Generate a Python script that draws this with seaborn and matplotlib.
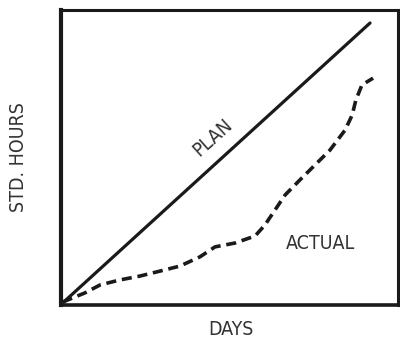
import matplotlib
matplotlib.use("Agg")
import matplotlib.pyplot as plt
import seaborn as sns
import pandas as pd

plan_days = [0.5, 91.7]
plan_hours = [0.7, 95.6]

actual_days = [0.5, 7.1, 11.6, 17.5, 23.4, 29.4, 35.3, 41.2, 45.7, 51.6, 57.6,
               60.5, 63.5, 66.5, 70.9, 75.4, 79.8, 84.3, 86.4, 87.5, 89.3, 92.6]
actual_hours = [1.0, 4.1, 6.8, 8.5, 9.8, 11.5, 13.2, 16.3, 19.7, 21.0, 23.4,
                27.1, 32.2, 37.3, 42.4, 47.5, 52.5, 59.3, 64.4, 69.5, 74.6, 76.9]

sns.set_theme(style="white")
plt.rcParams['font.family'] = ['DejaVu Sans']

fig = plt.figure(figsize=(4.0, 3.41), dpi=100)
ax = fig.add_axes([0.1525, 0.1056, 0.8425, 0.865])

plan_df = pd.DataFrame({"days": plan_days, "hours": plan_hours})
act_df = pd.DataFrame({"days": actual_days, "hours": actual_hours})

sns.lineplot(data=plan_df, x="days", y="hours", ax=ax, color="#1a1a1a", linewidth=2.3)
sns.lineplot(data=act_df, x="days", y="hours", ax=ax, color="#1a1a1a", linewidth=2.6,
             linestyle=(0, (2.8, 1.6)))

ax.set_xlim(0, 100)
ax.set_ylim(0, 100)
ax.set_xticks([])
ax.set_yticks([])
ax.set_xlabel("")
ax.set_ylabel("")
for side, lw in [("left", 3.0), ("bottom", 2.6), ("top", 2.2), ("right", 2.2)]:
    ax.spines[side].set_visible(True)
    ax.spines[side].set_linewidth(lw)
    ax.spines[side].set_color("#1a1a1a")

txt = dict(fontsize=14, color="#333333", fontstretch="condensed",
           ha="center", va="center")
fig.text(0.5775, 0.035, "DAYS", **txt)
fig.text(0.0475, 0.54, "STD. HOURS", rotation=90, **txt)

ax.text(45.1, 56.9, "PLAN", rotation=42, **txt)
ax.text(76.9, 21.0, "ACTUAL", **txt)

fig.savefig("out.png", dpi=100)
